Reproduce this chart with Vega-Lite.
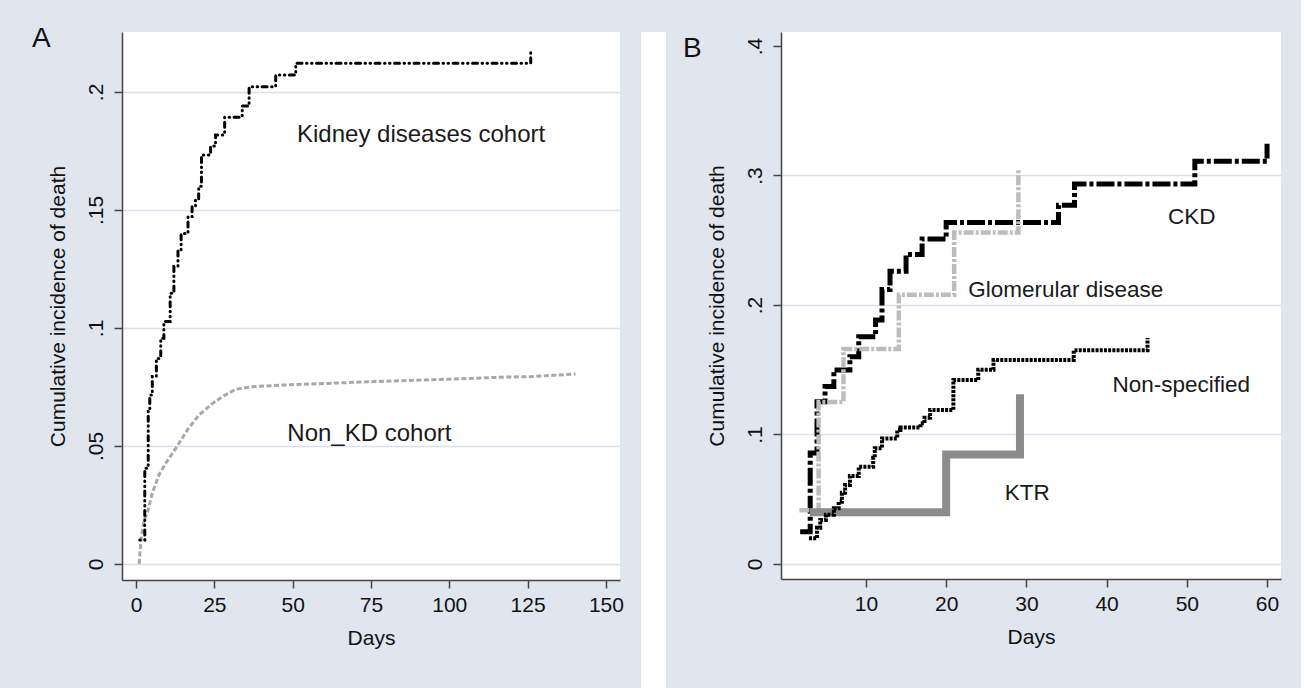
{
  "$schema": "https://vega.github.io/schema/vega-lite/v6.json",
  "background": "#e0e5ee",
  "padding": {"left": 32, "top": 25, "right": 20, "bottom": 0},
  "spacing": 17,
  "config": {
    "font": "Liberation Sans",
    "view": {"fill": "white", "stroke": null},
    "axis": {
      "domainColor": "#444444", "domainWidth": 1.5,
      "tickColor": "#444444", "tickWidth": 1.5, "tickSize": 8,
      "labelFontSize": 21, "titleFontSize": 21,
      "labelColor": "#111111", "titleColor": "#111111",
      "titleFontWeight": "normal",
      "gridColor": "#d9e0eb", "gridWidth": 1.5
    },
    "axisX": {"grid": false, "labelPadding": 6, "titlePadding": 12},
    "axisY": {"labelAngle": 270, "labelPadding": 8, "titlePadding": 17},
    "title": {"fontSize": 28, "fontWeight": "normal", "anchor": "start", "frame": "bounds", "color": "#111111", "offset": 0}
  },
  "datasets": {
    "A": [
      {"series": "Kidney diseases cohort", "day": 1.2, "cum": 0.0102},
      {"series": "Kidney diseases cohort", "day": 2.8, "cum": 0.0406},
      {"series": "Kidney diseases cohort", "day": 3.9, "cum": 0.0646},
      {"series": "Kidney diseases cohort", "day": 4.4, "cum": 0.0716},
      {"series": "Kidney diseases cohort", "day": 5.2, "cum": 0.0794},
      {"series": "Kidney diseases cohort", "day": 6.5, "cum": 0.0871},
      {"series": "Kidney diseases cohort", "day": 7.9, "cum": 0.0956},
      {"series": "Kidney diseases cohort", "day": 8.9, "cum": 0.1027},
      {"series": "Kidney diseases cohort", "day": 10.9, "cum": 0.1147},
      {"series": "Kidney diseases cohort", "day": 12.1, "cum": 0.126},
      {"series": "Kidney diseases cohort", "day": 13.4, "cum": 0.133},
      {"series": "Kidney diseases cohort", "day": 14.4, "cum": 0.140},
      {"series": "Kidney diseases cohort", "day": 16.6, "cum": 0.1472},
      {"series": "Kidney diseases cohort", "day": 17.9, "cum": 0.1514},
      {"series": "Kidney diseases cohort", "day": 19.0, "cum": 0.1542},
      {"series": "Kidney diseases cohort", "day": 20.0, "cum": 0.160},
      {"series": "Kidney diseases cohort", "day": 20.9, "cum": 0.1733},
      {"series": "Kidney diseases cohort", "day": 23.8, "cum": 0.1771},
      {"series": "Kidney diseases cohort", "day": 25.4, "cum": 0.1818},
      {"series": "Kidney diseases cohort", "day": 28.3, "cum": 0.1893},
      {"series": "Kidney diseases cohort", "day": 33.9, "cum": 0.1940},
      {"series": "Kidney diseases cohort", "day": 36.1, "cum": 0.2022},
      {"series": "Kidney diseases cohort", "day": 44.6, "cum": 0.2072},
      {"series": "Kidney diseases cohort", "day": 51.0, "cum": 0.2122},
      {"series": "Kidney diseases cohort", "day": 126.0, "cum": 0.2181},
      {"series": "Non_KD cohort", "day": 1.0, "cum": 0.0},
      {"series": "Non_KD cohort", "day": 1.6, "cum": 0.0102},
      {"series": "Non_KD cohort", "day": 2.6, "cum": 0.0186},
      {"series": "Non_KD cohort", "day": 3.6, "cum": 0.0215},
      {"series": "Non_KD cohort", "day": 5.2, "cum": 0.030},
      {"series": "Non_KD cohort", "day": 7.3, "cum": 0.0377},
      {"series": "Non_KD cohort", "day": 9.5, "cum": 0.0427},
      {"series": "Non_KD cohort", "day": 12.7, "cum": 0.049},
      {"series": "Non_KD cohort", "day": 16.4, "cum": 0.0568},
      {"series": "Non_KD cohort", "day": 20.1, "cum": 0.0631},
      {"series": "Non_KD cohort", "day": 24.4, "cum": 0.068},
      {"series": "Non_KD cohort", "day": 27.6, "cum": 0.0709},
      {"series": "Non_KD cohort", "day": 31.8, "cum": 0.074},
      {"series": "Non_KD cohort", "day": 37.1, "cum": 0.0751},
      {"series": "Non_KD cohort", "day": 46.7, "cum": 0.0758},
      {"series": "Non_KD cohort", "day": 62.7, "cum": 0.0766},
      {"series": "Non_KD cohort", "day": 76.5, "cum": 0.0773},
      {"series": "Non_KD cohort", "day": 99.9, "cum": 0.0783},
      {"series": "Non_KD cohort", "day": 115.9, "cum": 0.0791},
      {"series": "Non_KD cohort", "day": 126.5, "cum": 0.0794},
      {"series": "Non_KD cohort", "day": 140.3, "cum": 0.0805}
    ],
    "B": [
      {"series": "CKD", "day": 1.8, "cum": 0.025},
      {"series": "CKD", "day": 3.05, "cum": 0.0857},
      {"series": "CKD", "day": 3.9, "cum": 0.1253},
      {"series": "CKD", "day": 4.9, "cum": 0.137},
      {"series": "CKD", "day": 6.0, "cum": 0.1498},
      {"series": "CKD", "day": 8.0, "cum": 0.160},
      {"series": "CKD", "day": 9.1, "cum": 0.1755},
      {"series": "CKD", "day": 11.2, "cum": 0.1884},
      {"series": "CKD", "day": 12.0, "cum": 0.212},
      {"series": "CKD", "day": 13.0, "cum": 0.226},
      {"series": "CKD", "day": 15.0, "cum": 0.239},
      {"series": "CKD", "day": 17.0, "cum": 0.251},
      {"series": "CKD", "day": 20.0, "cum": 0.2637},
      {"series": "CKD", "day": 34.0, "cum": 0.277},
      {"series": "CKD", "day": 36.0, "cum": 0.2935},
      {"series": "CKD", "day": 51.0, "cum": 0.311},
      {"series": "CKD", "day": 60.0, "cum": 0.3246},
      {"series": "Glomerular disease", "day": 1.7, "cum": 0.0416},
      {"series": "Glomerular disease", "day": 4.1, "cum": 0.125},
      {"series": "Glomerular disease", "day": 7.2, "cum": 0.166},
      {"series": "Glomerular disease", "day": 14.1, "cum": 0.208},
      {"series": "Glomerular disease", "day": 21.0, "cum": 0.256},
      {"series": "Glomerular disease", "day": 29.0, "cum": 0.3053},
      {"series": "KTR", "day": 3.0, "cum": 0.040},
      {"series": "KTR", "day": 20.0, "cum": 0.0845},
      {"series": "KTR", "day": 29.2, "cum": 0.131},
      {"series": "Non-specified", "day": 2.9, "cum": 0.0198},
      {"series": "Non-specified", "day": 3.9, "cum": 0.028},
      {"series": "Non-specified", "day": 4.3, "cum": 0.034},
      {"series": "Non-specified", "day": 5.0, "cum": 0.038},
      {"series": "Non-specified", "day": 6.0, "cum": 0.043},
      {"series": "Non-specified", "day": 6.6, "cum": 0.048},
      {"series": "Non-specified", "day": 7.0, "cum": 0.055},
      {"series": "Non-specified", "day": 7.4, "cum": 0.061},
      {"series": "Non-specified", "day": 8.0, "cum": 0.068},
      {"series": "Non-specified", "day": 9.1, "cum": 0.0751},
      {"series": "Non-specified", "day": 10.9, "cum": 0.082},
      {"series": "Non-specified", "day": 11.1, "cum": 0.0893},
      {"series": "Non-specified", "day": 12.0, "cum": 0.097},
      {"series": "Non-specified", "day": 13.9, "cum": 0.1035},
      {"series": "Non-specified", "day": 14.3, "cum": 0.1055},
      {"series": "Non-specified", "day": 16.8, "cum": 0.1086},
      {"series": "Non-specified", "day": 17.3, "cum": 0.113},
      {"series": "Non-specified", "day": 18.0, "cum": 0.119},
      {"series": "Non-specified", "day": 20.9, "cum": 0.142},
      {"series": "Non-specified", "day": 24.0, "cum": 0.150},
      {"series": "Non-specified", "day": 25.9, "cum": 0.1575},
      {"series": "Non-specified", "day": 35.9, "cum": 0.165},
      {"series": "Non-specified", "day": 45.1, "cum": 0.1745}
    ],
    "labelsA": [
      {"label": "Kidney diseases cohort", "day": 91, "cum": 0.179},
      {"label": "Non_KD cohort", "day": 74.5, "cum": 0.0521}
    ],
    "labelsB": [
      {"label": "CKD", "day": 50.6, "cum": 0.2625},
      {"label": "Glomerular disease", "day": 34.9, "cum": 0.2065},
      {"label": "Non-specified", "day": 49.3, "cum": 0.1325},
      {"label": "KTR", "day": 30.1, "cum": 0.0494}
    ]
  },
  "hconcat": [
    {
      "width": 498,
      "height": 548,
      "title": {"text": "A", "dx": -15, "dy": 25},
      "encoding": {
        "x": {"field": "day", "type": "quantitative",
              "scale": {"domain": [-4.47, 154.5], "nice": false, "zero": false},
              "axis": {"values": [0, 25, 50, 75, 100, 125, 150], "title": "Days"}},
        "y": {"field": "cum", "type": "quantitative",
              "scale": {"domain": [-0.0068, 0.2254], "nice": false, "zero": false},
              "axis": {"values": [0, 0.05, 0.1, 0.15, 0.2], "title": "Cumulative incidence of death",
                       "labelExpr": "datum.value == 0 ? '0' : substring(format(datum.value, '~g'), 1)"}}
      },
      "layer": [
        {"data": {"name": "A"}, "transform": [{"filter": "datum.series == 'Non_KD cohort'"}],
         "mark": {"type": "line", "color": "#a8a8a8", "strokeWidth": 3, "strokeDash": [5, 2.5]}},
        {"data": {"name": "A"}, "transform": [{"filter": "datum.series == 'Kidney diseases cohort'"}],
         "mark": {"type": "line", "interpolate": "step-after", "color": "#000000", "strokeWidth": 3, "strokeCap": "round", "strokeDash": [0.5, 4.5, 0.5, 4.5, 5, 4.5]}},
        {"data": {"name": "labelsA"},
         "mark": {"type": "text", "fontSize": 24, "align": "center", "baseline": "alphabetic", "color": "#1a1a1a"},
         "encoding": {"text": {"field": "label"}}}
      ]
    },
    {
      "width": 25,
      "height": 656,
      "view": {"fill": "#ffffff", "stroke": null},
      "data": {"values": [{"gap": 1}]},
      "mark": {"type": "point", "opacity": 0},
      "encoding": {}
    },
    {
      "width": 500,
      "height": 547,
      "title": {"text": "B", "dx": -23, "dy": 35},
      "encoding": {
        "x": {"field": "day", "type": "quantitative",
              "scale": {"domain": [-0.59, 61.74], "nice": false, "zero": false},
              "axis": {"values": [10, 20, 30, 40, 50, 60], "title": "Days"}},
        "y": {"field": "cum", "type": "quantitative",
              "scale": {"domain": [-0.01158, 0.4108], "nice": false, "zero": false},
              "axis": {"values": [0, 0.1, 0.2, 0.3, 0.4], "title": "Cumulative incidence of death",
                       "gridOpacity": {"condition": {"test": "datum.value > 0.35", "value": 0}, "value": 1},
                       "labelExpr": "datum.value == 0 ? '0' : substring(format(datum.value, '~g'), 1)"}}
      },
      "layer": [
        {"data": {"name": "B"}, "transform": [{"filter": "datum.series == 'CKD'"}],
         "mark": {"type": "line", "interpolate": "step-after", "color": "#000000", "strokeWidth": 5, "strokeDash": [18, 3, 4, 3]}},
        {"data": {"name": "B"}, "transform": [{"filter": "datum.series == 'Glomerular disease'"}],
         "mark": {"type": "line", "interpolate": "step-after", "color": "#bdbdbd", "strokeWidth": 4.5, "strokeDash": [10, 2, 3, 2]}},
        {"data": {"name": "B"}, "transform": [{"filter": "datum.series == 'KTR'"}],
         "mark": {"type": "line", "interpolate": "step-after", "color": "#8c8c8c", "strokeWidth": 8}},
        {"data": {"name": "B"}, "transform": [{"filter": "datum.series == 'Non-specified'"}],
         "mark": {"type": "line", "interpolate": "step-after", "color": "#000000", "strokeWidth": 4, "strokeDash": [3, 1.2]}},
        {"data": {"name": "labelsB"},
         "mark": {"type": "text", "fontSize": 22.5, "align": "center", "baseline": "alphabetic", "color": "#1a1a1a"},
         "encoding": {"text": {"field": "label"}}}
      ]
    }
  ]
}
